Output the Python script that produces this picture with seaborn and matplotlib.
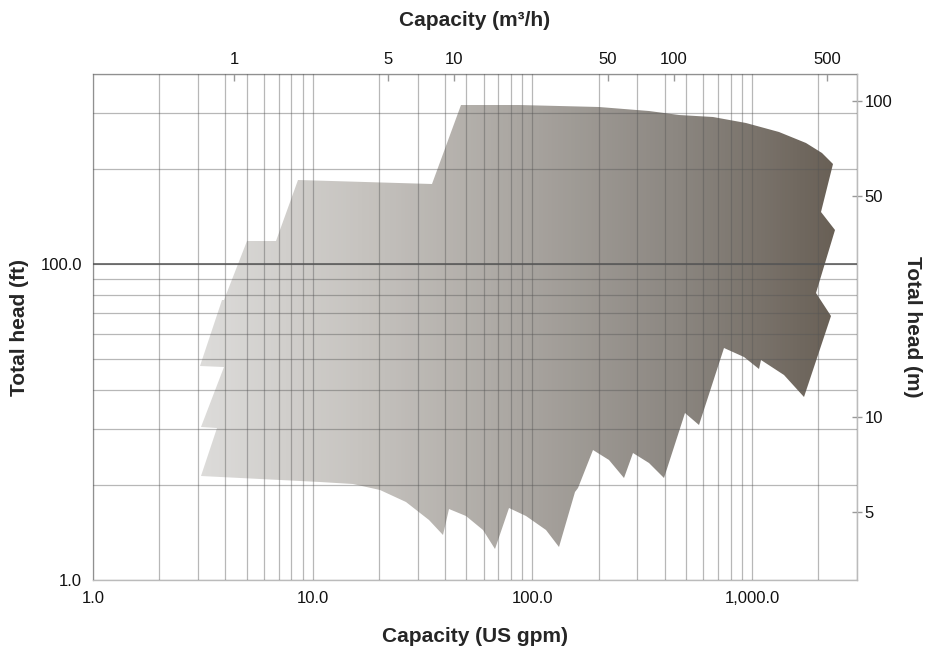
import numpy as np
import matplotlib
matplotlib.use("Agg")
import matplotlib.pyplot as plt
import seaborn as sns
from matplotlib.colors import LinearSegmentedColormap
from matplotlib.patches import Polygon
from matplotlib.ticker import FixedLocator, LogLocator, NullFormatter, NullLocator

# Outline of the combined pump coverage area, traced clockwise from the
# lower left corner.  Capacity in US gpm, total head in ft.
edge_gpm = [3.10, 3.65, 3.09, 3.95, 3.06, 3.85, 3.95, 5.0, 6.84, 8.58, 35.0, 47.4,
            87.3, 201.6, 340, 466, 660, 936, 1327, 1754, 2087, 2342,
            2053, 2384, 1948, 2279, 1723, 1398, 1095, 1076, 920, 746,
            574, 496, 398, 340, 286, 262, 224, 188, 162, 157,
            131.7, 115.4, 93.6, 78.6, 67.2, 59.5, 49.9, 41.9, 39.1,
            34.0, 26.7, 20.2, 15.3, 10.8]
edge_ft = [21.4, 30.3, 30.6, 47.4, 47.7, 77.1, 77.1, 118.8, 118.8, 184.1, 179.2, 319.2,
           318.0, 313.5, 305.5, 296.8, 291.9, 279.4, 262.8, 241.5, 224.5, 207.7,
           146.7, 128.4, 80.9, 68.3, 38.1, 44.6, 49.8, 46.5, 50.9, 54.2,
           31.0, 33.8, 21.0, 23.5, 25.2, 21.0, 24.0, 25.8, 19.6, 19.0,
           12.7, 14.4, 15.9, 16.9, 12.5, 14.4, 15.9, 16.8, 13.9,
           15.5, 17.7, 19.3, 20.2, 20.5]

gpm_ticks = [1, 10, 100, 1000]
gpm_labels = ["1.0", "10.0", "100.0", "1,000.0"]
ft_ticks = [10, 100]
ft_labels = ["1.0", "100.0"]
m3h_ticks = [1, 5, 10, 50, 100, 500]
m_ticks = [5, 10, 50, 100]

GPM_PER_M3H = 4.4029
M_PER_FT = 0.3048

sns.set_style("white")
plt.rcParams["font.family"] = ["Liberation Sans", "DejaVu Sans"]

fig = plt.figure(figsize=(9.26, 6.5), dpi=100)
ax = fig.add_axes([93 / 926, 70 / 650, 764 / 926, 506 / 650])
ax.set_xscale("log")
ax.set_yscale("log")
ax.set_xlim(1, 3000)
ax.set_ylim(10, 400)

# horizontal grey gradient, clipped to the coverage outline
cmap = LinearSegmentedColormap.from_list(
    "pump", ["#dcdbd9", "#c6c3bf", "#a9a5a0", "#8b8680", "#675e54"])
xe = np.logspace(0, np.log10(3000), 500)
ye = np.array([10, 400])
xc = np.log10(np.sqrt(xe[:-1] * xe[1:]))
mesh = ax.pcolormesh(xe, ye, xc[None, :], cmap=cmap, vmin=0.49, vmax=3.40,
                     shading="flat", zorder=1, rasterized=True)
outline = Polygon(np.column_stack([edge_gpm, edge_ft]), closed=True,
                  transform=ax.transData, facecolor="none", edgecolor="none")
ax.add_patch(outline)
mesh.set_clip_path(outline)

# grid on top of the fill
ax.set_axisbelow(False)
ax.xaxis.set_major_locator(FixedLocator(gpm_ticks))
ax.xaxis.set_minor_locator(LogLocator(base=10, subs=np.arange(2, 10)))
ax.xaxis.set_minor_formatter(NullFormatter())
ax.set_xticklabels(gpm_labels)
ax.yaxis.set_major_locator(FixedLocator(ft_ticks))
ax.yaxis.set_minor_locator(LogLocator(base=10, subs=np.arange(2, 10)))
ax.yaxis.set_minor_formatter(NullFormatter())
ax.set_yticklabels(ft_labels)
ax.grid(which="both", color="#555555", alpha=0.42, linewidth=0.9)
ax.axhline(100, color="#555555", alpha=0.85, linewidth=1.3, zorder=3)
ax.tick_params(which="both", length=0, labelsize=12, pad=8, labelcolor="#111111")

for sp in ax.spines.values():
    sp.set_color("#bbbbbb")
    sp.set_linewidth(1)

ax.set_xlabel("Capacity (US gpm)", fontsize=15, fontweight="bold", labelpad=15)
ax.set_ylabel("Total head (ft)", fontsize=15, fontweight="bold", labelpad=8)

# metric scales on top and right
top = ax.secondary_xaxis("top", functions=(lambda q: q / GPM_PER_M3H,
                                           lambda q: q * GPM_PER_M3H))
top.set_xticks(m3h_ticks)
top.set_xticklabels([str(t) for t in m3h_ticks])
top.xaxis.set_minor_locator(NullLocator())
top.tick_params(direction="in", length=5, width=1, color="#999999",
                labelsize=12, pad=5, labelcolor="#111111")
top.spines["top"].set_color("#bbbbbb")
top.set_xlabel("Capacity (m³/h)", fontsize=15, fontweight="bold", labelpad=19)

right = ax.secondary_yaxis("right", functions=(lambda f: f * M_PER_FT,
                                               lambda m: m / M_PER_FT))
right.set_yticks(m_ticks)
right.set_yticklabels([str(t) for t in m_ticks])
right.yaxis.set_minor_locator(NullLocator())
right.tick_params(direction="inout", length=7, width=1, color="#999999",
                  labelsize=12, pad=2, labelcolor="#111111")
right.spines["right"].set_color("#bbbbbb")
right.set_ylabel("Total head (m)", fontsize=15, fontweight="bold",
                 rotation=270, labelpad=21)

fig.savefig("out.png", dpi=100)
